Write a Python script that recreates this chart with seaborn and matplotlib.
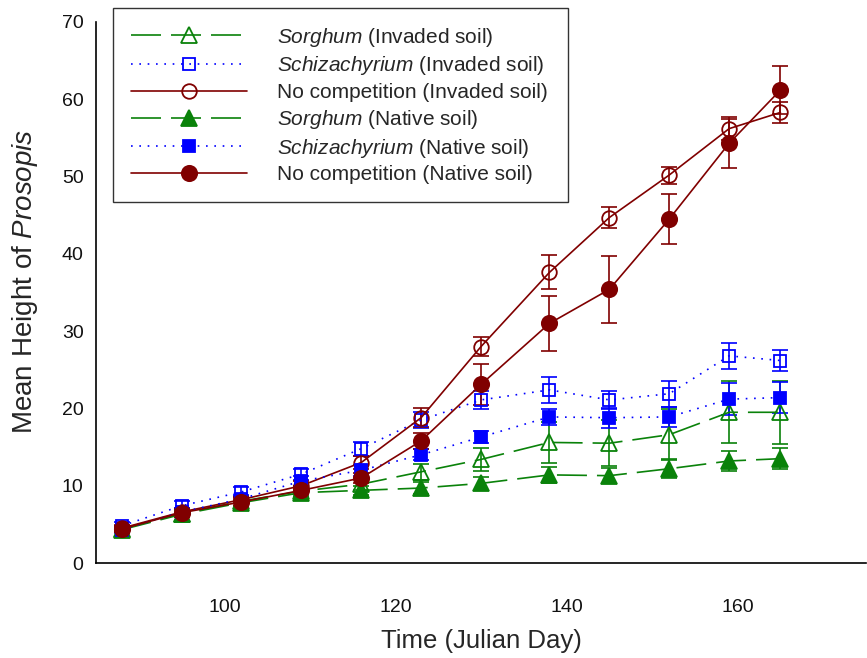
import matplotlib
matplotlib.use("Agg")
import matplotlib.pyplot as plt
import seaborn as sns
import numpy as np
import pandas as pd

# ---- data ----
days = [88, 95, 102, 109, 116, 123, 130, 138, 145, 152, 159, 165]

sorghum_inv = [4.4, 6.4, 8.0, 9.3, 10.2, 11.8, 13.4, 15.6, 15.5, 16.6, 19.5, 19.5]
sorghum_inv_se = [0.4, 0.5, 0.6, 0.6, 0.8, 1.0, 1.5, 2.6, 3.0, 3.3, 4.0, 4.1]

schiz_inv = [4.8, 7.4, 9.2, 11.5, 14.8, 18.5, 21.1, 22.4, 21.1, 21.9, 26.8, 26.2]
schiz_inv_se = [0.5, 0.6, 0.6, 0.7, 0.9, 1.0, 1.2, 1.7, 1.2, 1.7, 1.7, 1.4]

nocomp_inv = [4.5, 6.6, 8.2, 10.0, 13.0, 18.8, 28.0, 37.6, 44.7, 50.2, 56.2, 58.3]
nocomp_inv_se = [0.4, 0.5, 0.5, 0.6, 0.8, 1.2, 1.2, 2.2, 1.3, 1.1, 1.5, 1.4]

sorghum_nat = [4.3, 6.3, 7.8, 9.1, 9.4, 9.7, 10.3, 11.4, 11.3, 12.2, 13.2, 13.5]
sorghum_nat_se = [0.3, 0.4, 0.4, 0.5, 0.6, 0.8, 0.8, 1.0, 1.0, 1.2, 1.3, 1.4]

schiz_nat = [4.3, 6.6, 8.3, 10.6, 12.0, 14.0, 16.3, 18.9, 18.8, 18.9, 21.2, 21.4]
schiz_nat_se = [0.4, 0.5, 0.5, 0.6, 0.7, 0.7, 0.8, 1.0, 1.3, 1.3, 2.1, 2.0]

nocomp_nat = [4.4, 6.5, 7.9, 9.4, 11.0, 15.8, 23.1, 31.0, 35.4, 44.5, 54.3, 61.2]
nocomp_nat_se = [0.4, 0.5, 0.5, 0.5, 0.6, 1.0, 2.7, 3.6, 4.3, 3.2, 3.2, 3.1]

labels = [
    r"$\it{Sorghum}$ (Invaded soil)",
    r"$\it{Schizachyrium}$ (Invaded soil)",
    "No competition (Invaded soil)",
    r"$\it{Sorghum}$ (Native soil)",
    r"$\it{Schizachyrium}$ (Native soil)",
    "No competition (Native soil)",
]

x_ticks = [100, 120, 140, 160]
y_ticks = [0, 10, 20, 30, 40, 50, 60, 70]

# ---- style ----
sns.set_style("white")
plt.rcParams["font.family"] = ["Liberation Sans", "DejaVu Sans"]
plt.rcParams["mathtext.fontset"] = "custom"
plt.rcParams["mathtext.rm"] = "Liberation Sans"
plt.rcParams["mathtext.it"] = "Liberation Sans:italic"
plt.rcParams["mathtext.bf"] = "Liberation Sans:bold"

GREEN = "#0a820a"
BLUE = "#0000ff"
RED = "#800000"
DASH = (0, (18, 6))
DOT = (0, (1, 4))

series = [
    (sorghum_inv, sorghum_inv_se, GREEN, DASH, "^", False, 11.5),
    (schiz_inv, schiz_inv_se, BLUE, DOT, "s", False, 9.0),
    (nocomp_inv, nocomp_inv_se, RED, "-", "o", False, 10.5),
    (sorghum_nat, sorghum_nat_se, GREEN, DASH, "^", True, 11.5),
    (schiz_nat, schiz_nat_se, BLUE, DOT, "s", True, 9.0),
    (nocomp_nat, nocomp_nat_se, RED, "-", "o", True, 11.0),
]

fig = plt.figure(figsize=(8.67, 6.58), dpi=100)
ax = fig.add_axes([96 / 867, 1 - 563 / 658, (866 - 96) / 867, (563 - 22) / 658])

for (vals, se, col, ls, mk, filled, ms), lab in zip(series, labels):
    df = pd.DataFrame({"day": days, "height": vals})
    ax.errorbar(df["day"], df["height"], yerr=se, fmt="none", ecolor=col,
                elinewidth=1.2, capsize=6, capthick=1.2, zorder=2)
    sns.lineplot(data=df, x="day", y="height", ax=ax, color=col,
                 linestyle=ls, linewidth=1.2, marker=mk, markersize=ms,
                 markeredgecolor=col, markeredgewidth=1.3,
                 markerfacecolor=(col if filled else "none"),
                 label=lab, errorbar=None, zorder=3)

ax.set_xlim(85, 175)
ax.set_ylim(0, 70)
ax.set_xticks(x_ticks)
ax.set_yticks(y_ticks)
ax.tick_params(axis="both", direction="out", length=5, width=1.0,
               color="black", labelsize=14, labelcolor="#111111")
ax.tick_params(axis="x", pad=21)
ax.tick_params(axis="y", pad=4)
for s in ["top", "right"]:
    ax.spines[s].set_visible(False)
for s in ["left", "bottom"]:
    ax.spines[s].set_color("black")
    ax.spines[s].set_linewidth(1.2)

ax.set_xlabel("Time (Julian Day)", fontsize=18.5, labelpad=9)
ax.set_ylabel(r"Mean Height of $\it{Prosopis}$", fontsize=20)
ax.yaxis.set_label_coords(-0.073, 0.521)

leg_x0, leg_y1 = 113 / 867, 1 - 8 / 658
leg_w, leg_h = 455 / 867, 192 / 658
leg = ax.legend(loc="upper left",
                bbox_to_anchor=(leg_x0, leg_y1 - leg_h, leg_w, leg_h),
                bbox_transform=fig.transFigure, borderaxespad=0, mode="expand",
                fontsize=15, handlelength=5.6, handletextpad=1.4,
                labelspacing=0.275, borderpad=0.85, numpoints=1,
                frameon=True, fancybox=False, edgecolor="black")
leg.get_frame().set_linewidth(1.0)

fig.savefig("out.png", dpi=100)
